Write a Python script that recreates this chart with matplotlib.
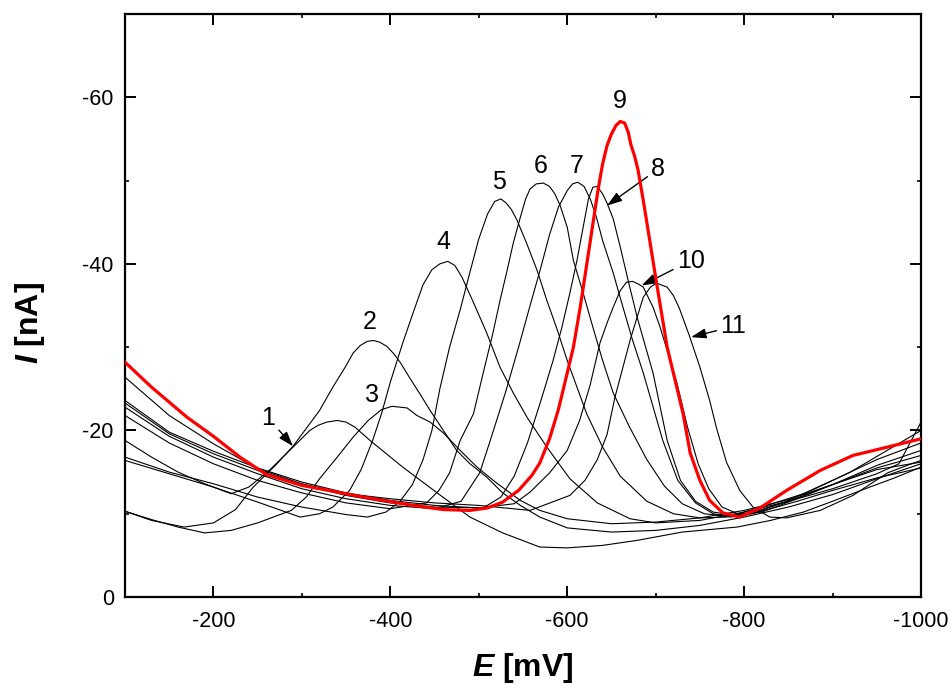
import matplotlib.pyplot as plt
from matplotlib.ticker import MultipleLocator

plt.rcParams['font.family'] = ['Liberation Sans', 'DejaVu Sans']
plt.rcParams['axes.unicode_minus'] = False
plt.rcParams['mathtext.fontset'] = 'custom'
plt.rcParams['mathtext.it'] = 'Liberation Sans:italic:bold'
plt.rcParams['mathtext.rm'] = 'Liberation Sans:bold'

# ------------------------------- DATA ------------------------------- #
# potential E [mV], current I [nA]

E1 = [-100, -130, -160, -190, -220, -240, -264, -290, -309, -318, -328, -340, -350, -360, -377,
      -414, -453, -490, -527, -569, -600, -640, -679, -730, -792, -830, -867, -900, -942, -970, -1000]
I1 = [-18.8, -16.8, -15.0, -13.6, -12.4, -13.2, -15.3, -18.0, -20.0, -20.6, -21.0, -21.2, -21.0,
      -20.4, -18.8, -15.6, -12.5, -9.6, -7.7, -6.0, -5.9, -6.2, -6.8, -7.8, -8.4, -9.2, -10.2,
      -11.5, -13.2, -14.3, -15.6]

E2 = [-100, -130, -167, -200, -225, -245, -270, -290, -320, -335, -349, -358, -366, -374, -381,
      -388, -396, -404, -411, -422, -434, -445, -460, -475, -490, -509, -527, -547, -569, -600,
      -650, -700, -750, -800, -850, -900, -950, -1000]
I2 = [-10.3, -9.2, -8.4, -8.9, -10.5, -13.2, -15.8, -18.1, -22.4, -25.2, -27.6, -29.3, -30.2,
      -30.7, -30.8, -30.6, -30.1, -29.2, -28.2, -26.3, -24.3, -22.4, -20.0, -17.6, -16.0, -14.4,
      -12.5, -11.0, -9.6, -8.3, -7.8, -8.0, -8.6, -9.6, -10.8, -12.3, -14.2, -16.0]

E3 = [-100, -130, -160, -190, -220, -250, -288, -305, -320, -340, -358, -375, -390, -402, -419,
      -430, -445, -460, -479, -498, -520, -547, -569, -600, -650, -700, -750, -800, -850, -900,
      -950, -1000]
I3 = [-10.3, -9.3, -8.4, -7.7, -8.0, -8.9, -10.4, -12.0, -14.2, -16.8, -19.2, -21.2, -22.5,
      -22.9, -22.7, -21.8, -21.0, -19.7, -17.6, -15.6, -13.7, -11.6, -10.4, -9.4, -8.8, -9.0,
      -9.5, -10.4, -11.7, -13.5, -15.3, -16.2]

E4 = [-100, -150, -200, -250, -298, -320, -335, -354, -367, -380, -390, -400, -414, -427, -437,
      -447, -456, -465, -473, -481, -493, -509, -524, -539, -555, -577, -603, -634, -671, -700,
      -750, -800, -850, -900, -950, -975, -1000]
I4 = [-16.4, -14.8, -13.2, -11.4, -9.6, -10.0, -10.8, -12.8, -15.3, -18.8, -22.0, -25.8, -30.5,
      -34.5, -37.5, -39.3, -40.0, -40.3, -39.8, -38.4, -35.6, -31.7, -27.6, -24.5, -21.5, -18.0,
      -14.2, -11.3, -9.4, -8.9, -9.2, -10.2, -11.5, -13.0, -14.8, -16.0, -21.0]

E5 = [-100, -150, -200, -250, -300, -350, -374, -395, -411, -425, -437, -447, -456, -467, -479,
      -490, -500, -510, -518, -525, -531, -537, -543, -554, -566, -577, -589, -600, -611, -622,
      -640, -660, -690, -720, -750, -780, -820, -870, -920, -960, -1000]
I5 = [-16.8, -15.0, -13.6, -12.0, -10.8, -9.9, -9.6, -10.2, -11.5, -13.5, -16.5, -20.0, -25.0,
      -30.0, -34.5, -39.0, -43.0, -46.0, -47.5, -47.8, -47.3, -46.5, -45.3, -42.5, -39.2, -35.6,
      -32.0, -28.4, -25.2, -22.0, -18.0, -14.5, -11.5, -10.0, -9.5, -9.6, -10.8, -12.5, -15.0,
      -17.5, -20.0]

E6 = [-100, -150, -200, -250, -300, -350, -400, -441, -455, -467, -479, -494, -505, -516, -524,
      -532, -539, -547, -553, -558, -565, -573, -580, -586, -592, -600, -607, -618, -629, -640,
      -652, -670, -690, -710, -730, -755, -780, -810, -850, -900, -950, -1000]
I6 = [-21.8, -18.5, -16.0, -14.0, -12.5, -11.3, -10.6, -11.3, -12.8, -14.9, -18.8, -22.0, -26.9,
      -31.7, -35.6, -39.2, -42.5, -45.6, -47.8, -49.0, -49.6, -49.7, -49.3, -48.4, -47.0, -44.4,
      -40.4, -36.5, -32.4, -28.4, -24.5, -20.5, -16.5, -13.3, -11.2, -10.0, -9.7, -10.2, -11.5,
      -13.5, -15.8, -17.6]

E7 = [-100, -150, -200, -250, -300, -350, -400, -450, -480, -501, -513, -530, -545, -558, -570,
      -580, -590, -600, -606, -612, -619, -626, -633, -640, -652, -663, -674, -686, -708, -725,
      -745, -765, -785, -810, -850, -900, -950, -1000]
I7 = [-22.8, -19.3, -16.8, -14.8, -13.0, -11.8, -11.0, -10.6, -11.5, -14.9, -18.8, -24.5, -30.0,
      -35.0, -39.5, -43.5, -46.8, -48.8, -49.6, -49.8, -49.3, -47.8, -45.6, -42.8, -38.9, -34.8,
      -30.8, -26.9, -18.8, -14.0, -11.3, -10.0, -9.6, -10.0, -11.6, -14.0, -16.5, -18.5]

E8 = [-100, -150, -200, -250, -300, -350, -400, -450, -505, -525, -540, -555, -570, -584, -594,
      -603, -611, -618, -624, -629, -634, -640, -645, -652, -660, -668, -679, -697, -713, -728,
      -745, -765, -790, -820, -860, -900, -950, -1000]
I8 = [-23.3, -19.6, -17.2, -15.2, -13.5, -12.2, -11.3, -10.8, -10.7, -12.0, -14.5, -18.5, -23.5,
      -28.4, -32.4, -36.5, -40.4, -44.4, -47.8, -49.2, -49.3, -48.4, -47.3, -45.4, -42.0, -38.4,
      -33.6, -26.9, -18.8, -14.0, -11.5, -10.2, -9.8, -10.3, -11.5, -12.8, -14.3, -15.5]

# curve 9 is the red one
E9 = [-100, -130, -170, -200, -230, -260, -300, -335, -380, -426, -460, -490, -510, -527, -545,
      -560, -569, -580, -590, -600, -607, -615, -625, -635, -640, -645, -650, -655, -660, -665,
      -669, -672, -676, -680, -686, -693, -701, -713, -722, -731, -739, -750, -761, -776, -795,
      -818, -848, -886, -923, -962, -1000]
I9 = [-28.2, -25.2, -21.6, -19.3, -16.8, -14.7, -13.4, -12.7, -11.8, -11.0, -10.5, -10.4, -10.7,
      -11.4, -12.8, -14.6, -16.1, -19.0, -22.5, -26.9, -30.0, -35.0, -42.0, -49.0, -52.0, -54.2,
      -55.6, -56.6, -57.1, -56.9, -55.8, -54.3, -53.0, -51.3, -47.6, -43.0, -37.7, -30.0, -26.0,
      -22.0, -17.3, -14.0, -11.6, -10.1, -9.6, -10.7, -12.8, -15.2, -17.0, -18.0, -19.0]

E10 = [-100, -150, -200, -250, -300, -350, -400, -450, -500, -540, -558, -580, -600, -614, -626,
       -637, -645, -652, -660, -667, -674, -680, -686, -697, -705, -713, -724, -736, -748, -760,
       -775, -795, -820, -860, -900, -950, -1000]
I10 = [-23.6, -19.8, -17.5, -15.5, -13.8, -12.5, -11.6, -11.0, -10.7, -11.2, -12.6, -14.9, -17.6,
       -21.2, -25.5, -30.5, -32.9, -34.8, -36.8, -37.8, -37.9, -37.6, -37.2, -34.8, -32.4, -29.6,
       -25.7, -20.4, -16.0, -13.0, -10.8, -9.9, -10.2, -11.8, -13.5, -15.5, -17.0]

E11 = [-100, -150, -200, -250, -300, -350, -400, -450, -500, -558, -603, -620, -634, -645, -654,
       -663, -671, -679, -686, -694, -701, -708, -713, -720, -727, -738, -750, -761, -769, -780,
       -795, -810, -829, -848, -886, -923, -962, -984, -1000]
I11 = [-26.4, -21.8, -18.4, -15.4, -13.6, -12.4, -11.8, -11.3, -11.0, -10.4, -12.2, -14.0, -16.5,
       -19.5, -24.0, -27.6, -30.8, -33.6, -36.0, -37.2, -37.7, -37.4, -37.2, -36.2, -34.6, -31.4,
       -27.6, -23.6, -20.2, -16.2, -12.8, -10.8, -9.6, -9.5, -10.4, -12.2, -14.9, -15.8, -16.4]

black_curves = [(E1, I1), (E2, I2), (E3, I3), (E4, I4), (E5, I5), (E6, I6),
                (E7, I7), (E8, I8), (E10, I10), (E11, I11)]

# curve numbers: (text, text position, arrow tip or None)
curve_labels = [
    ("1", (-262, -21.5), (-290, -18.1)),
    ("2", (-377, -33.0), None),
    ("3", (-379, -24.2), None),
    ("4", (-460, -42.6), None),
    ("5", (-523, -49.8), None),
    ("6", (-570, -51.8), None),
    ("7", (-611, -51.8), None),
    ("8", (-703, -51.4), (-645, -47.0)),
    ("9", (-659, -59.6), None),
    ("10", (-740, -40.4), (-684, -37.4)),
    ("11", (-788, -32.5), (-740, -31.2)),
]

# ------------------------------------ PLOT ------------------------------------ #
fig = plt.figure(figsize=(9.51, 6.86), dpi=100)
ax = fig.add_axes([0.1314, 0.1297, 0.8371, 0.8499])

for E, I in black_curves:
    ax.plot(E, I, color="black", lw=0.8)
ax.plot(E9, I9, color="#ff0000", lw=2.3, zorder=5)

for txt, pos, tip in curve_labels:
    if tip is None:
        ax.text(pos[0], pos[1], txt, fontsize=18, ha="center", va="center")
    else:
        ax.annotate(txt, xy=tip, xytext=pos, fontsize=18, ha="center", va="center",
                    arrowprops=dict(arrowstyle="-|>,head_length=0.9,head_width=0.3",
                                    color="black", lw=1.0, mutation_scale=10,
                                    shrinkA=1, shrinkB=0))

ax.set_xlim(-100, -1000)
ax.set_ylim(0, -70)
ax.xaxis.set_major_locator(MultipleLocator(200))
ax.xaxis.set_minor_locator(MultipleLocator(100))
ax.yaxis.set_major_locator(MultipleLocator(20))
ax.yaxis.set_minor_locator(MultipleLocator(10))
ax.tick_params(which="both", direction="in", top=True, right=True, labelsize=15.5)
ax.tick_params(which="major", length=8, width=1.4)
ax.tick_params(which="minor", length=3, width=1.2)
ax.tick_params(axis="x", pad=10)
ax.tick_params(axis="y", pad=8)
for sp in ax.spines.values():
    sp.set_linewidth(1.6)

ax.set_xlabel(r"$E$ [mV]", fontsize=23, fontweight="bold")
ax.set_ylabel(r"$I$ [nA]", fontsize=23, fontweight="bold")
ax.xaxis.set_label_coords(0.5, -0.092)
ax.yaxis.set_label_coords(-0.098, 0.47)

fig.savefig("out.png", dpi=100)
